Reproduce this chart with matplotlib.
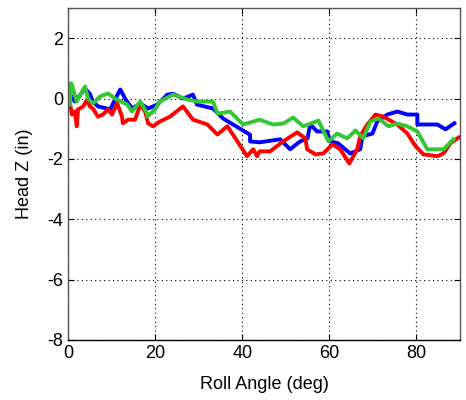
import matplotlib
matplotlib.use("Agg")
import matplotlib.pyplot as plt

plt.rcParams['font.family'] = ['Liberation Sans', 'DejaVu Sans']
plt.rcParams['axes.unicode_minus'] = False

# blue trace
blue_x = [0.5, 1.6, 3.9, 5.0, 5.7, 6.9, 9.7, 10.8, 12.0, 13.1, 14.7, 16.6, 18.4, 20.5,
          22.8, 24.1, 26.4, 28.7, 29.6, 33.3, 35.6, 39.5, 41.8, 41.8, 44.0, 48.7, 51.0,
          53.3, 55.0, 55.6, 57.2, 59.5, 60.2, 62.0, 64.8, 67.1, 67.6, 69.9, 71.0, 73.3,
          75.6, 77.9, 80.2, 80.2, 84.8, 86.7, 88.7]
blue_y = [0.13, -0.1, 0.33, 0.16, -0.1, -0.26, -0.36, -0.03, 0.3, 0.0, -0.33, -0.16,
          -0.33, -0.2, 0.13, 0.16, 0.0, 0.13, -0.2, -0.33, -0.66, -1.0, -1.2, -1.42,
          -1.45, -1.35, -1.68, -1.42, -1.32, -0.86, -1.09, -1.09, -1.42, -1.48, -1.82,
          -1.68, -1.25, -1.16, -0.76, -0.53, -0.43, -0.53, -0.53, -0.86, -0.86, -1.02,
          -0.82]

# green trace
green_x = [0.5, 0.5, 0.8, 2.0, 3.2, 3.9, 4.6, 5.7, 7.4, 9.2, 10.8, 13.6, 14.7, 16.6,
           18.2, 18.2, 20.0, 21.1, 24.1, 27.4, 29.6, 33.3, 34.3, 37.2, 40.2, 44.0, 47.1,
           49.4, 51.7, 54.0, 57.5, 59.8, 61.8, 64.1, 66.0, 67.8, 69.4, 71.3, 73.6, 75.6,
           77.9, 80.2, 82.5, 86.2, 88.5]
green_y = [-0.2, 0.5, 0.5, -0.1, 0.23, 0.4, 0.0, -0.16, 0.07, 0.17, 0.0, -0.2, -0.43,
           -0.1, -0.5, -0.6, -0.36, -0.1, 0.13, -0.03, -0.1, -0.1, -0.5, -0.43, -0.86,
           -0.7, -0.86, -0.83, -0.63, -0.92, -0.73, -1.42, -1.16, -1.32, -1.06, -1.32,
           -0.76, -0.66, -0.92, -0.83, -0.92, -1.09, -1.68, -1.68, -1.35]

# red trace
red_x = [0.5, 0.9, 1.6, 2.0, 2.3, 3.5, 4.4, 5.0, 5.7, 6.9, 8.0, 9.2, 10.1, 11.3, 12.4,
         12.6, 13.8, 15.4, 16.6, 17.7, 18.4, 19.5, 21.1, 23.4, 26.4, 28.7, 32.0, 34.3,
         36.6, 38.9, 41.1, 42.5, 43.4, 44.0, 46.4, 49.4, 52.6, 54.5, 54.9, 56.8, 58.6,
         60.7, 62.5, 64.6, 66.4, 67.1, 68.7, 70.6, 72.4, 75.6, 77.9, 79.8, 81.6, 84.8,
         86.2, 87.8, 89.7]
red_y = [-0.2, -0.53, -0.43, -0.92, -0.36, -0.26, -0.03, -0.26, -0.33, -0.6, -0.53,
         -0.36, -0.53, -0.16, -0.6, -0.82, -0.7, -0.7, -0.2, -0.43, -0.82, -0.92, -0.76,
         -0.6, -0.26, -0.7, -0.86, -1.19, -0.92, -1.42, -1.91, -1.68, -1.91, -1.75,
         -1.75, -1.42, -1.12, -1.32, -1.68, -1.85, -1.82, -1.52, -1.68, -2.15, -1.68,
         -1.25, -0.86, -0.53, -0.6, -0.86, -1.16, -1.58, -1.85, -1.91, -1.82, -1.48,
         -1.29]

x_ticks = [0, 20, 40, 60, 80]
y_ticks = [-8, -6, -4, -2, 0, 2]

fig = plt.figure(figsize=(4.66, 4.0), dpi=100)
ax = fig.add_axes([68 / 466, 60 / 400, 392 / 466, 332 / 400])

ax.plot(blue_x, blue_y, color=(0, 0, 1), lw=2.8)
ax.plot(red_x, red_y, color=(1, 0, 0), lw=2.8)
ax.plot(green_x, green_y, color=(0.2, 0.78, 0.2), lw=2.8)

ax.set_xlim(0, 90)
ax.set_ylim(-8, 3)
ax.set_xticks(x_ticks)
ax.set_yticks(y_ticks)
ax.tick_params(direction='in', labelsize=13, length=4, top=True, right=True)
ax.grid(True, color='black', linestyle=(0, (1, 3)), linewidth=0.8)
for s in ax.spines.values():
    s.set_linewidth(1.0)
    s.set_color('#555555')
ax.spines['bottom'].set_color('black')

ax.set_xlabel('Roll Angle (deg)', fontsize=13, labelpad=10)
ax.set_ylabel('Head Z (in)', fontsize=13, labelpad=10.5)

fig.savefig('out.png', dpi=100)
